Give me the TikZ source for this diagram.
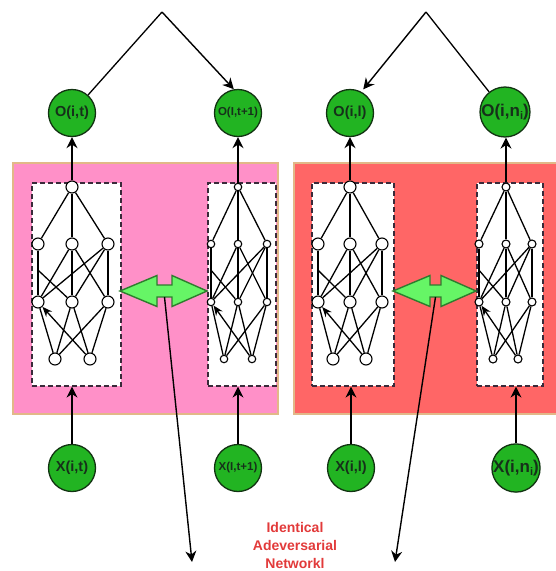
\documentclass[tikz,border=0pt]{standalone}
\usepackage{fontspec}
\setmainfont{Liberation Sans}
\usetikzlibrary{arrows.meta,calc}

\definecolor{nodegreen}{HTML}{22B422}
\definecolor{nodeedge}{HTML}{123312}
\definecolor{labeltext}{HTML}{16301A}
\definecolor{pinkfill}{HTML}{FF90C8}
\definecolor{redfill}{HTML}{FF6666}
\definecolor{paneledge}{HTML}{E2B888}
\definecolor{boxedge}{HTML}{3A2A3A}
\definecolor{linkfill}{HTML}{66F566}
\definecolor{linkedge}{HTML}{2E7D2E}
\definecolor{captionred}{HTML}{E23A3A}

% one small feed-forward net: prefix, top x, three hidden x, two input x, neuron size
\newcommand\neuralnet[8]{%
  \node[neuron, minimum size=#8] (#1T)  at (#2,187) {};
  \node[neuron, minimum size=#8] (#1A1) at (#3,244) {};
  \node[neuron, minimum size=#8] (#1A2) at (#4,244) {};
  \node[neuron, minimum size=#8] (#1A3) at (#5,244) {};
  \node[neuron, minimum size=#8] (#1B1) at (#3,302) {};
  \node[neuron, minimum size=#8] (#1B2) at (#4,302) {};
  \node[neuron, minimum size=#8] (#1B3) at (#5,302) {};
  \node[neuron, minimum size=#8] (#1C1) at (#6,359) {};
  \node[neuron, minimum size=#8] (#1C2) at (#7,359) {};
  \draw[link] (#1T) -- (#1A1);
  \draw[link] (#1T) -- (#1A2);
  \draw[link] (#1T) -- (#1A3);
  \draw[link] (#1A1) -- (#1B1);
  \draw[link] (#1A2) -- (#1B2);
  \draw[link] (#1A3) -- (#1B3);
  \draw[link] (#1A2) -- (#1B1);
  \draw[link] (#1A2) -- (#1B3);
  \draw[link] (#1A3) -- (#1B1);
  \draw[link] (#1A3) -- (#1B2);
  \coordinate (#1S) at ($(#1A1)!0.45!(#1B1)$);
  \draw[link] (#1S) -- (#1B2);
  \draw[link] (#1B1) -- (#1C1);
  \draw[link, -{Stealth[length=10pt,width=8pt]}] (#1C2) -- (#1B1);
  \draw[link] (#1B2) -- (#1C1);
  \draw[link] (#1B2) -- (#1C2);
  \draw[link] (#1B3) -- (#1C1);
  \draw[link] (#1B3) -- (#1C2);
}

% green two-headed link between two nets: left tip, left head back, right head back, right tip
\newcommand\twinlink[5]{%
  \draw[fill=linkfill, draw=linkedge, line width=1.4pt, line join=miter]
    (#2,291) -- (#3,275.5) -- (#3,285) -- (#4,285) -- (#4,275.5) -- (#5,291)
    -- (#4,306.5) -- (#4,297) -- (#3,297) -- (#3,306.5) -- cycle;
  \coordinate (#1) at ({(#3+#4)/2},297);
}

\begin{document}
\begin{tikzpicture}[x=1pt, y=-1pt,
  io/.style={circle, draw=nodeedge, fill=nodegreen, line width=1.3pt,
    minimum size=47pt, inner sep=0pt, text=labeltext,
    font=\bfseries\fontsize{14.5}{14.5}\selectfont},
  iosmall/.style={io, font=\bfseries\fontsize{11.5}{11.5}\selectfont},
  iobig/.style={io, font=\bfseries\fontsize{17}{17}\selectfont},
  neuron/.style={circle, draw=black, fill=white, line width=1.1pt, inner sep=0pt},
  link/.style={line width=1.3pt, draw=black},
  flow/.style={line width=1.4pt, draw=black, -{Stealth[length=11pt,width=11pt]}},
  netbox/.style={rectangle, draw=boxedge, dash pattern=on 5pt off 3pt,
    fill=white, line width=1.6pt, inner sep=0pt, anchor=north west},
  panel/.style={draw=paneledge, line width=1.2pt}]

\useasboundingbox (0,0) rectangle (556,571);
\clip (0,0) rectangle (556,571);

% the two shaded panels
\draw[panel, fill=pinkfill] (13,163) rectangle (278,414);
\draw[panel, fill=redfill] (294,163) rectangle (560,414);

% dashed frames round each net
\node[netbox, minimum width=89pt, minimum height=203pt] (pl) at (31,182) {};
\node[netbox, minimum width=68pt, minimum height=203pt] (pr) at (207,182) {};
\node[netbox, minimum width=82pt, minimum height=203pt] (rl) at (311,182) {};
\node[netbox, minimum width=66pt, minimum height=203pt] (rr) at (476,182) {};

\neuralnet{pl}{72}{38}{72}{108}{55}{90}{12pt}
\neuralnet{pr}{238}{211}{238}{267}{224}{252}{7.5pt}
\neuralnet{rl}{350}{318}{350}{382}{333}{366}{12pt}
\neuralnet{rr}{506}{479}{506}{532}{493}{518}{8pt}

% outputs
\node[io] (o1) at (72,113) {O(i,t)};
\node[iosmall] (o2) at (238,113) {O(I,t+1)};
\node[io] (o3) at (350,113) {O(i,l)};
\node[iobig] (o4) at (505,112) {O(i,n\raisebox{-0.35ex}{\fontsize{11}{11}\selectfont i})};

% inputs
\node[io] (x1) at (72,468) {X(i,t)};
\node[iosmall] (x2) at (238,468) {X(I,t+1)};
\node[io] (x3) at (351,468) {X(i,l)};
\node[iobig] (x4) at (516,468) {X(i,n\raisebox{-0.35ex}{\fontsize{11}{11}\selectfont i})};

% net outputs up into the output nodes
\draw[flow] (plT) -- (o1);
\draw[flow] (prT) -- (o2);
\draw[flow] (rlT) -- (o3);
\draw[flow] (rrT) -- (rrT |- o4.south);

% inputs up into the frames
\draw[flow] (x1) -- (x1 |- pl.south);
\draw[flow] (x2) -- (x2 |- pr.south);
\draw[flow] (x3) -- (x3 |- rl.south);
\draw[flow] (x4) -- (x4 |- rr.south);

% output pairings at the top
\coordinate (lapex) at (162,12);
\coordinate (rapex) at (426,12);
\draw[link] (o1) -- (lapex);
\draw[flow] (lapex) -- (o2.100);
\draw[link] (o4) -- (rapex);
\draw[flow, shorten >=3pt] (rapex) -- (o3.62);

% shared-weight links between the nets
\twinlink{plink}{120}{157}{172}{207}
\twinlink{rlink}{393}{430}{441}{476}

\coordinate (pend) at (192,562);
\coordinate (rend) at (395,562);
\draw[flow] (plink) -- (pend);
\draw[flow] (rlink) -- (rend);

\node[text=captionred, align=center, font=\bfseries\fontsize{14}{18}\selectfont]
  (caption) at (295,545) {Identical\\Adeversarial\\Networkl};

\end{tikzpicture}
\end{document}
